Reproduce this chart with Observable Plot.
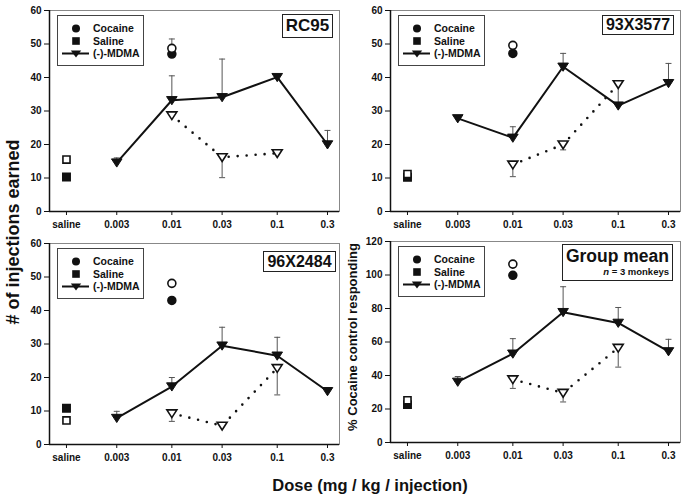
<!DOCTYPE html>
<html>
<head>
<meta charset="utf-8">
<script src="https://cdn.jsdelivr.net/npm/d3@7"></script>
<script src="https://cdn.jsdelivr.net/npm/@observablehq/plot@0.6"></script>
<style>
  html, body { margin: 0; padding: 0; background: #fff; }
  #root { position: relative; width: 685px; height: 498px; background: #fff; overflow: hidden;
          font-family: "Liberation Sans", Arial, sans-serif; font-weight: bold; color: #111; }
  .panel { position: absolute; }
  .txt { position: absolute; white-space: nowrap; font-weight: bold; }
  .box { position: absolute; box-sizing: border-box; border: 1.5px solid #222; background: #fff; white-space: nowrap;
         display: flex; align-items: center; justify-content: center; font-weight: bold; }
  .legend { position: absolute; box-sizing: border-box; border: 1.5px solid #444; background: #fff; }
</style>
</head>
<body>
<div id="root"></div>
<script>
// ---------- data ----------
const doseTicks = [0.001, 0.003, 0.01, 0.03, 0.1, 0.3];
const tickLabels = ["saline", "0.003", "0.01", "0.03", "0.1", "0.3"];
const salineDose = 0.001;
const cocaineDose = 0.01;
const mdmaDoses = [0.003, 0.01, 0.03, 0.1, 0.3];
const openDoses = [0.01, 0.03, 0.1];

const panelNames = ["RC95", "93X3577", "96X2484", "Group mean"];

// RC95
const rc95Cocaine = [47.0, 48.7];        // [filled, open]
const rc95CocaineErr = [null, 51.5];
const rc95Saline = [10.3, 15.5];         // [filled, open]
const rc95Filled = [14.6, 33.2, 34.1, 40.1, 20.0];
const rc95FilledErr = [16.0, 40.5, 45.5, 40.1, 24.2];
const rc95Open = [28.7, 16.2, 17.4];
const rc95OpenErr = [28.7, 10.1, 17.4];

// 93X3577
const m93Cocaine = [47.2, 49.6];
const m93CocaineErr = [null, null];
const m93Saline = [10.2, 11.2];
const m93Filled = [27.8, 22.0, 43.2, 31.6, 38.3];
const m93FilledErr = [27.8, 25.3, 47.2, 31.6, 44.2];
const m93Open = [14.0, 20.0, 38.0];
const m93OpenErr = [10.4, 18.4, 31.6];

// 96X2484
const m96Cocaine = [43.0, 48.1];
const m96CocaineErr = [null, null];
const m96Saline = [10.8, 7.2];
const m96Filled = [7.9, 17.3, 29.5, 26.5, 15.9];
const m96FilledErr = [9.9, 20.0, 35.0, 32.0, 15.9];
const m96Open = [9.3, 5.6, 22.8];
const m96OpenErr = [6.9, 5.6, 14.8];

// Group mean
const grpCocaine = [99.8, 106.5];
const grpCocaineErr = [null, null];
const grpSaline = [22.6, 25.2];
const grpFilled = [36.2, 53.0, 77.8, 71.4, 54.4];
const grpFilledErr = [39.4, 62.0, 93.0, 80.6, 61.6];
const grpOpen = [37.7, 29.6, 56.5];
const grpOpenErr = [32.3, 24.2, 45.0];

const yTicks60 = [0, 10, 20, 30, 40, 50, 60];
const yTicks120 = [0, 20, 40, 60, 80, 100, 120];

// ---------- symbols ----------
const rOf = size => Math.sqrt(size / Math.PI);
const triDown = { draw(ctx, size) { const r = rOf(size);
  ctx.moveTo(-r, -r * 0.7); ctx.lineTo(r, -r * 0.7); ctx.lineTo(0, r * 0.85); ctx.closePath(); } };
const capSym = { draw(ctx, size) { const r = rOf(size); ctx.moveTo(-r, 0); ctx.lineTo(r, 0); } };

const xDomain = [0.00069, 0.39];

function panel(cfg) {
  const filled = mdmaDoses.map((d, i) => ({dose: d, v: cfg.filled[i], e: cfg.filledErr[i]}));
  const open = openDoses.map((d, i) => ({dose: d, v: cfg.open[i], e: cfg.openErr[i]}));
  const coc = [
    {dose: cocaineDose, v: cfg.cocaine[0], e: cfg.cocaineErr[0], kind: "filled"},
    {dose: cocaineDose, v: cfg.cocaine[1], e: cfg.cocaineErr[1], kind: "open"}
  ];
  const sal = [
    {dose: salineDose, v: cfg.saline[0], kind: "filled"},
    {dose: salineDose, v: cfg.saline[1], kind: "open"}
  ];
  const errs = [...filled, ...open, ...coc].filter(d => d.e != null && Math.abs(d.e - d.v) > 0.5);
  return Plot.plot({
    width: 330, height: 240,
    marginLeft: 35, marginRight: 5, marginTop: 10, marginBottom: 29,
    style: {fontFamily: "Liberation Sans, Arial, sans-serif", fontSize: "10px", fontWeight: "bold", color: "#111", background: "transparent"},
    x: {type: "log", domain: xDomain, ticks: doseTicks, tickFormat: d => tickLabels[doseTicks.indexOf(d)], tickSize: 4, tickPadding: 5, label: null},
    y: {domain: cfg.yDomain, ticks: cfg.yTicks, tickSize: 5, tickPadding: 3, label: null},
    marks: [
      Plot.frame({stroke: "#888", strokeWidth: 1}),
      Plot.ruleX([xDomain[0]], {stroke: "#111", strokeWidth: 1.5}),
      Plot.ruleY([cfg.yDomain[0]], {stroke: "#111", strokeWidth: 1.5}),
      Plot.ruleX(errs, {x: "dose", y1: "v", y2: "e", stroke: "#555", strokeWidth: 1}),
      Plot.dot(errs, {x: "dose", y: "e", symbol: capSym, r: 3, stroke: "#555", strokeWidth: 1, fill: "none"}),
      Plot.line(open, {x: "dose", y: "v", stroke: "#111", strokeWidth: 2.6, strokeDasharray: "0,9", strokeLinecap: "round"}),
      Plot.line(filled, {x: "dose", y: "v", stroke: "#111", strokeWidth: 2}),
      Plot.dot(open, {x: "dose", y: "v", symbol: triDown, r: 5, fill: "#fff", stroke: "#111", strokeWidth: 1.6}),
      Plot.dot(filled, {x: "dose", y: "v", symbol: triDown, r: 5.3, fill: "#111", stroke: "#111", strokeWidth: 1}),
      Plot.dot(coc.filter(d => d.kind === "filled"), {x: "dose", y: "v", symbol: "circle", r: 4, fill: "#111", stroke: "#111"}),
      Plot.dot(coc.filter(d => d.kind === "open"), {x: "dose", y: "v", symbol: "circle", r: 4, fill: "#fff", stroke: "#111", strokeWidth: 1.6}),
      Plot.dot(sal.filter(d => d.kind === "filled"), {x: "dose", y: "v", symbol: "square", r: 4.2, fill: "#111", stroke: "#111"}),
      Plot.dot(sal.filter(d => d.kind === "open"), {x: "dose", y: "v", symbol: "square", r: 4, fill: "#fff", stroke: "#111", strokeWidth: 1.6})
    ]
  });
}

const root = document.getElementById("root");
const cfgs = [
  {name: panelNames[0], left: 14, top: 0, yDomain: [0, 60], yTicks: yTicks60,
   cocaine: rc95Cocaine, cocaineErr: rc95CocaineErr, saline: rc95Saline,
   filled: rc95Filled, filledErr: rc95FilledErr, open: rc95Open, openErr: rc95OpenErr},
  {name: panelNames[1], left: 355, top: 0, yDomain: [0, 60], yTicks: yTicks60,
   cocaine: m93Cocaine, cocaineErr: m93CocaineErr, saline: m93Saline,
   filled: m93Filled, filledErr: m93FilledErr, open: m93Open, openErr: m93OpenErr},
  {name: panelNames[2], left: 14, top: 233, yDomain: [0, 60], yTicks: yTicks60,
   cocaine: m96Cocaine, cocaineErr: m96CocaineErr, saline: m96Saline,
   filled: m96Filled, filledErr: m96FilledErr, open: m96Open, openErr: m96OpenErr},
  {name: panelNames[3], left: 355, top: 231, yDomain: [0, 120], yTicks: yTicks120,
   cocaine: grpCocaine, cocaineErr: grpCocaineErr, saline: grpSaline,
   filled: grpFilled, filledErr: grpFilledErr, open: grpOpen, openErr: grpOpenErr}
];

for (const c of cfgs) {
  const el = panel(c);
  el.classList.add("panel");
  el.style.left = c.left + "px";
  el.style.top = c.top + "px";
  root.appendChild(el);
  // legend
  const lg = document.createElement("div");
  lg.className = "legend";
  lg.style.left = (c.left + 43) + "px";
  lg.style.top = (c.top + 15) + "px";
  lg.style.width = "87px";
  lg.style.height = "51px";
  lg.innerHTML = `<svg width="85" height="49" style="position:absolute;left:0;top:0;font-family:'Liberation Sans',Arial,sans-serif;font-size:10.5px;font-weight:bold;">
    <circle cx="18" cy="12.5" r="4" fill="#111"/>
    <text x="35" y="16" fill="#111">Cocaine</text>
    <rect x="14.2" y="21.2" width="7.6" height="7.6" fill="#111"/>
    <text x="35" y="28.5" fill="#111">Saline</text>
    <line x1="4" y1="37.5" x2="31" y2="37.5" stroke="#111" stroke-width="2"/>
    <path d="M12.8,34.5 L23.2,34.5 L18,41.5 Z" fill="#111"/>
    <text x="35" y="41" fill="#111">(-)-MDMA</text>
  </svg>`;
  root.appendChild(lg);
}

// label boxes
function labelBox(text, left, top, w, h, fs) {
  const b = document.createElement("div");
  b.className = "box";
  Object.assign(b.style, {left: left + "px", top: top + "px", width: w + "px", height: h + "px", fontSize: fs + "px"});
  b.textContent = text;
  root.appendChild(b);
  return b;
}
labelBox(panelNames[0], 282, 14, 51, 24, 17);
labelBox(panelNames[1], 602, 15, 72, 20, 16);
labelBox(panelNames[2], 263, 251, 73, 21, 16);
const gm = labelBox("", 562, 244, 111, 37, 17);
gm.style.flexDirection = "column";
gm.style.alignItems = "flex-end";
gm.style.padding = "0 3px 0 0";
gm.innerHTML = `<div style="font-size:17.5px;line-height:19px;">${panelNames[3]}</div><div style="font-size:9.5px;line-height:12px;"><i>n</i> = 3 monkeys</div>`;

// axis titles
function title(text, cx, cy, fs, rot) {
  const t = document.createElement("div");
  t.className = "txt";
  t.style.fontSize = fs + "px";
  t.style.left = cx + "px";
  t.style.top = cy + "px";
  t.style.transform = `translate(-50%, -50%)` + (rot ? ` rotate(${rot}deg)` : "");
  t.textContent = text;
  root.appendChild(t);
}
title("# of injections earned", 12.5, 232, 18, -90);
title("% Cocaine control responding", 352, 337, 13, -90);
title("Dose (mg / kg / injection)", 370, 485, 16.5, 0);
</script>
</body>
</html>
